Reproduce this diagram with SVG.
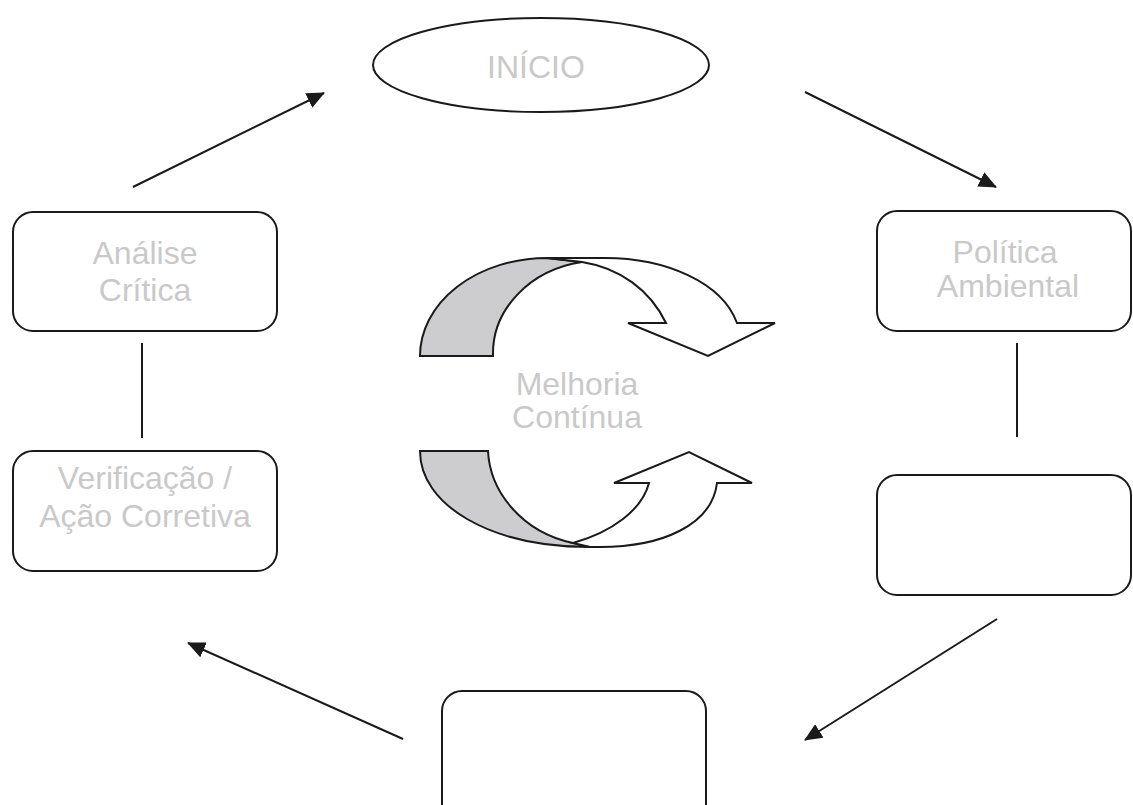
<svg xmlns="http://www.w3.org/2000/svg" width="1133" height="805" viewBox="0 0 1133 805">
<defs>
<marker id="ah" markerUnits="userSpaceOnUse" markerWidth="18" markerHeight="16" refX="17" refY="8" orient="auto">
<path d="M0,0 L18,8 L0,16 Z" fill="#1a1a1a"/>
</marker>
<style>
.box{fill:#fff;stroke:#1a1a1a;stroke-width:2}
.lbl{font-family:"Liberation Sans",Arial,sans-serif;font-size:32px;fill:#c9c9c9;text-anchor:middle}
.con{stroke:#1a1a1a;stroke-width:2;fill:none}
.rib{stroke:#1a1a1a;stroke-width:2;stroke-linejoin:miter}
</style>
</defs>
<rect width="1133" height="805" fill="#fff"/>
<g id="connectors">
<line class="con" x1="133" y1="187" x2="324" y2="93" marker-end="url(#ah)"/>
<line class="con" x1="805" y1="92" x2="996" y2="187" marker-end="url(#ah)"/>
<line class="con" x1="1017" y1="343" x2="1017" y2="437"/>
<line class="con" x1="997" y1="619" x2="805" y2="740" marker-end="url(#ah)"/>
<line class="con" x1="403" y1="739" x2="188" y2="643" marker-end="url(#ah)"/>
<line class="con" x1="142" y1="343" x2="142" y2="438"/>
</g>
<g id="inicio">
<ellipse class="box" cx="541" cy="65" rx="168" ry="47"/>
<text class="lbl" x="536" y="78">INÍCIO</text>
</g>
<g id="politica">
<rect class="box" x="877" y="211" width="254" height="120" rx="20"/>
<text class="lbl" x="1005" y="263">Política</text>
<text class="lbl" x="1008" y="297">Ambiental</text>
</g>
<g id="node-right">
<rect class="box" x="877" y="475" width="254" height="120" rx="20"/>
</g>
<g id="node-bottom">
<rect class="box" x="442" y="691" width="264" height="140" rx="20"/>
</g>
<g id="analise">
<rect class="box" x="13" y="212" width="264" height="119" rx="20"/>
<text class="lbl" x="145" y="264">Análise</text>
<text class="lbl" x="145" y="301">Crítica</text>
</g>
<g id="verificacao">
<rect class="box" x="13" y="451" width="264" height="120" rx="20"/>
<text class="lbl" x="145" y="489">Verificação /</text>
<text class="lbl" x="145" y="527">Ação Corretiva</text>
</g>
<g id="melhoria">
<path class="rib" fill="#cdcdcf" d="M420,356 A127,98 0 0 1 547,258 L582,262 A107,93 0 0 0 493,356 Z"/>
<path class="rib" fill="#fff" d="M547,258 L605,258 C665,258 722,282 737,323 L775,323 L708,356 L628,323 L666,323 C650,290 620,268 582,262 Z"/>
<path class="rib" fill="#cdcdcf" d="M420,451 L488,451 C490,492 522,532 573,543 L590,547 C490,547 420,505 420,451 Z"/>
<path class="rib" fill="#fff" d="M573,543 C612,532 642,510 649,483 L614,483 L689,452 L752,483 L717,483 C712,525 662,547 600,547 L590,547 Z"/>
<text class="lbl" x="577" y="395">Melhoria</text>
<text class="lbl" x="577" y="428">Contínua</text>
</g>
</svg>
